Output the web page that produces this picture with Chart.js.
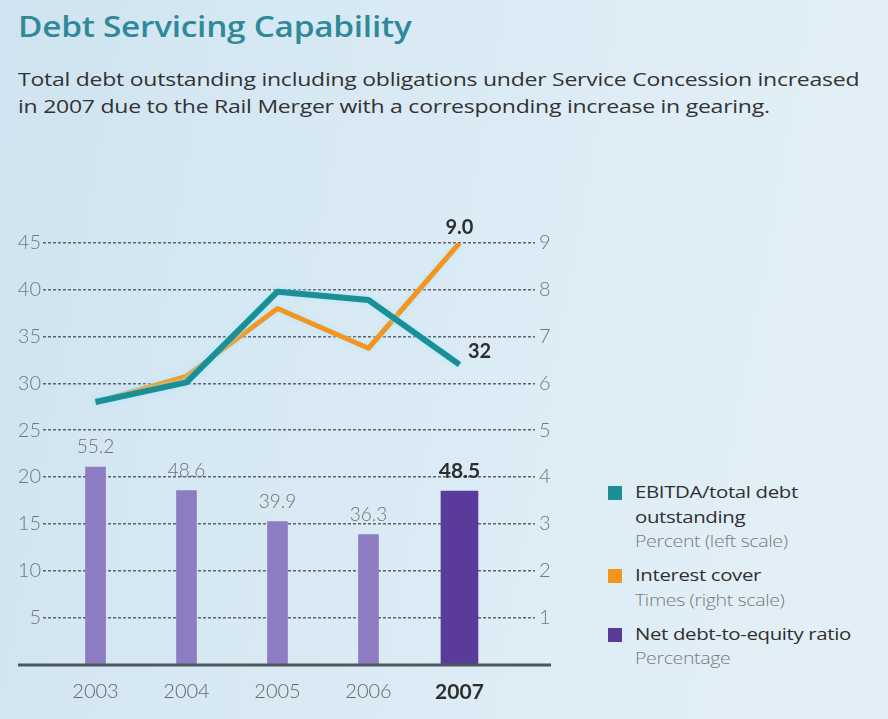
<!DOCTYPE html>
<html>
<head>
<meta charset="utf-8">
<script src="https://cdn.jsdelivr.net/npm/chart.js@4/dist/chart.umd.min.js"></script>
<style>
  html, body { margin: 0; padding: 0; }
  body {
    width: 888px; height: 719px; overflow: hidden; position: relative;
    background: linear-gradient(100deg, #cfe4f0 0%, #dbebf5 50%, #e4f0f7 100%);
    font-family: "Open Sans", "Lato", sans-serif;
  }
  #title {
    position: absolute; left: 18px; top: 7px; margin: 0;
    font-size: 28px; font-weight: 600; color: #2e8a99; white-space: nowrap;
    letter-spacing: -0.2px; transform: scaleX(1.19); transform-origin: 0 50%;
  }
  #subtitle {
    position: absolute; left: 18px; top: 66px; margin: 0;
    font-size: 19px; line-height: 27px; color: #333; white-space: nowrap;
    letter-spacing: -0.2px; transform: scaleX(1.21); transform-origin: 0 50%;
  }
  #chartWrap { position: absolute; left: 0; top: 190px; width: 600px; height: 529px; }
  #legend { position: absolute; left: 608px; top: 480px; }
  .item { position: relative; padding-left: 27px; margin-bottom: 10px; }
  .sw { position: absolute; left: 0; top: 6px; width: 14px; height: 14px; }
  .main { font-size: 17px; line-height: 24.5px; color: #2f2f2f; letter-spacing: -0.3px; white-space: nowrap;
          transform: scaleX(1.2); transform-origin: 0 50%; }
  .sub { font-size: 16px; line-height: 24px; color: #7a7a7a; letter-spacing: -0.3px; font-weight: 300; white-space: nowrap;
         transform: scaleX(1.22); transform-origin: 0 50%; }
</style>
</head>
<body>
<div id="title">Debt Servicing Capability</div>
<div id="subtitle">Total debt outstanding including obligations under Service Concession increased<br>in 2007 due to the Rail Merger with a corresponding increase in gearing.</div>
<div id="chartWrap"><canvas id="c" width="600" height="529"></canvas></div>
<div id="legend">
  <div class="item"><span class="sw" style="background:#1b8e96"></span><div class="main">EBITDA/total debt<br>outstanding</div><div class="sub">Percent (left scale)</div></div>
  <div class="item"><span class="sw" style="background:#f7941d"></span><div class="main">Interest cover</div><div class="sub">Times (right scale)</div></div>
  <div class="item"><span class="sw" style="background:#5a3b9c"></span><div class="main">Net debt-to-equity ratio</div><div class="sub">Percentage</div></div>
</div>
<script>
// ---- data ----
const years = [2003, 2004, 2005, 2006, 2007];
const ebitdaToDebt = [28.0, 30.1, 39.8, 38.9, 32];      // percent, left scale
const interestCover = [5.6, 6.15, 7.6, 6.75, 9.0];      // times, right scale
const netDebtToEquity = [55.2, 48.6, 39.9, 36.3, 48.5]; // percentage
const leftTicks = [5, 10, 15, 20, 25, 30, 35, 40, 45];
const rightTicks = [1, 2, 3, 4, 5, 6, 7, 8, 9];
const highlightYear = 2007;

const TEAL = '#1b8e96', ORANGE = '#f7941d', LIGHTP = '#8d7cc2', DARKP = '#5a3b9c';
const LIGHT_FONT = 'Lato, "Open Sans", sans-serif';

const pts = arr => years.map((y, i) => ({ x: y, y: arr[i] }));
const barsLight = years.map((y, i) => ({ x: y, y: y === highlightYear ? null : netDebtToEquity[i] }));
const barsDark = years.map((y, i) => ({ x: y, y: y === highlightYear ? netDebtToEquity[i] : null }));

const glowPlugin = {
  id: 'glow',
  beforeDatasetDraw(chart, args) {
    const ds = chart.data.datasets[args.index];
    if (ds.type === 'line') {
      chart.ctx.save();
      chart.ctx.shadowColor = 'rgba(165,235,255,0.9)';
      chart.ctx.shadowBlur = 5;
    }
  },
  afterDatasetDraw(chart, args) {
    const ds = chart.data.datasets[args.index];
    if (ds.type === 'line') chart.ctx.restore();
  }
};

const labelsPlugin = {
  id: 'labels',
  afterDatasetsDraw(chart) {
    const ctx = chart.ctx;
    const ys = chart.scales.y, yb = chart.scales.yb, yr = chart.scales.yr, xs = chart.scales.x;
    ctx.save();
    // baseline
    const by = ys.getPixelForValue(0) + 1;
    ctx.strokeStyle = '#4c585c'; ctx.lineWidth = 3;
    ctx.beginPath(); ctx.moveTo(chart.chartArea.left - 25, by); ctx.lineTo(chart.chartArea.right + 16, by); ctx.stroke();
    // bar labels
    ctx.textAlign = 'center'; ctx.textBaseline = 'middle';
    years.forEach((yv, i) => {
      const x = xs.getPixelForValue(yv);
      const top = yb.getPixelForValue(netDebtToEquity[i]);
      if (yv === highlightYear) {
        ctx.font = 'bold 21px ' + LIGHT_FONT; ctx.fillStyle = '#2e2e2e';
      } else {
        ctx.font = '300 19px ' + LIGHT_FONT; ctx.fillStyle = '#6f6f6f';
      }
      ctx.fillText(netDebtToEquity[i].toFixed(1), x, top - 20);
    });
    // line end labels
    const last = years.length - 1;
    ctx.font = 'bold 20px ' + LIGHT_FONT; ctx.fillStyle = '#2e2e2e';
    ctx.fillText(interestCover[last].toFixed(1), xs.getPixelForValue(years[last]), yr.getPixelForValue(interestCover[last]) - 15);
    ctx.fillText(String(ebitdaToDebt[last]), xs.getPixelForValue(years[last]) + 20, ys.getPixelForValue(ebitdaToDebt[last]) - 13);
    ctx.restore();
  }
};

new Chart(document.getElementById('c'), {
  type: 'bar',
  data: {
    datasets: [
      { type: 'line', label: 'EBITDA/total debt outstanding', data: pts(ebitdaToDebt), yAxisID: 'y',
        borderColor: TEAL, borderWidth: 6, pointRadius: 0, tension: 0, order: 0, borderJoinStyle: 'round' },
      { type: 'line', label: 'Interest cover', data: pts(interestCover), yAxisID: 'yr',
        borderColor: ORANGE, borderWidth: 5, pointRadius: 0, tension: 0, order: 1, borderJoinStyle: 'round' },
      { label: 'Net debt-to-equity ratio', data: barsLight, yAxisID: 'yb', backgroundColor: LIGHTP,
        barThickness: 20, grouped: false, order: 2 },
      { label: 'Net debt-to-equity ratio 2007', data: barsDark, yAxisID: 'yb', backgroundColor: DARKP,
        barThickness: 37, grouped: false, order: 2 }
    ]
  },
  options: {
    responsive: false, animation: false,
    layout: { padding: { top: 53, left: 0, right: 0, bottom: 0 } },
    plugins: { legend: { display: false }, tooltip: { enabled: false } },
    scales: {
      x: {
        type: 'linear', min: 2002.423, max: 2007.83, offset: false, bounds: 'data',
        afterBuildTicks: s => { s.ticks = years.map(v => ({ value: v })); },
        afterFit: s => { s.height = 55; },
        grid: { display: false, drawTicks: false }, border: { display: false },
        ticks: {
          padding: 16,
          callback: v => String(v),
          color: c => c.tick && c.tick.value === highlightYear ? '#2e2e2e' : '#666',
          font: c => c.tick && c.tick.value === highlightYear
            ? { family: LIGHT_FONT, size: 21, weight: 'bold' }
            : { family: LIGHT_FONT, size: 20, weight: '300' }
        }
      },
      y: {
        position: 'left', min: 0, max: 45,
        afterBuildTicks: s => { s.ticks = [0].concat(leftTicks).map(v => ({ value: v })); },
        afterFit: s => { s.width = 43; },
        border: { display: false, dash: [3, 2] },
        grid: { color: c => c.tick && c.tick.value === 0 ? 'rgba(0,0,0,0)' : '#59646c', lineWidth: 1.4, drawTicks: false },
        ticks: { padding: 2, color: '#777', font: { family: LIGHT_FONT, size: 20, weight: '300' },
          callback: v => v === 0 ? '' : String(v) }
      },
      yr: {
        position: 'right', min: 0, max: 9,
        afterBuildTicks: s => { s.ticks = [0].concat(rightTicks).map(v => ({ value: v })); },
        afterFit: s => { s.width = 65; },
        border: { display: false },
        grid: { display: false, drawTicks: false },
        ticks: { padding: 4, color: '#777', font: { family: LIGHT_FONT, size: 20, weight: '300' },
          callback: v => v === 0 ? '' : String(v) }
      },
      yb: { display: false, min: 0, max: 118 }
    }
  },
  plugins: [glowPlugin, labelsPlugin]
});
</script>
</body>
</html>
